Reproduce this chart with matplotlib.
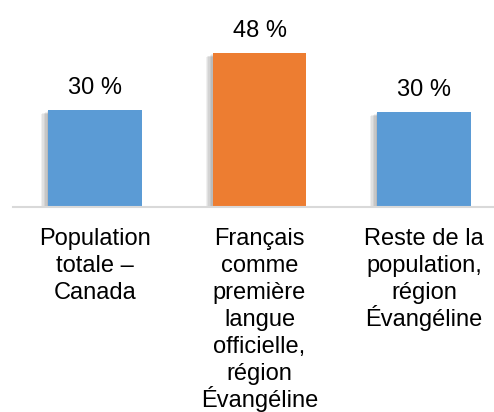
import matplotlib
matplotlib.use('Agg')
import matplotlib.pyplot as plt
import matplotlib.patheffects as pe

categories = ['Population\ntotale –\nCanada',
              'Français\ncomme\npremière\nlangue\nofficielle,\nrégion\nÉvangéline',
              'Reste de la\npopulation,\nrégion\nÉvangéline']
values = [30.2, 48.0, 29.6]
value_labels = ['30 %', '48 %', '30 %']
colors = ['#5B9BD5', '#ED7D31', '#5B9BD5']

plt.rcParams['font.family'] = ['Liberation Sans', 'DejaVu Sans']

fig = plt.figure(figsize=(4.94, 4.12), dpi=100)
ax = fig.add_axes([0.0263, 0.4976, 0.9737, 0.4539])

x = list(range(len(values)))
bars = ax.bar(x, values, width=0.571, color=colors, zorder=2)
# soft shadow to the lower left of each bar
shadow = [pe.SimplePatchShadow(offset=(-d, -d * 0.6), shadow_rgbFace='#000000', alpha=0.06)
          for d in (5, 4, 3, 2, 1)]
for b in bars:
    b.set_path_effects(shadow + [pe.Normal()])

for xi, v, lab in zip(x, values, value_labels):
    ax.annotate(lab, (xi, v), xytext=(0, 11.5), textcoords='offset points',
                ha='center', va='baseline', fontsize=17, color='#000000')

# category labels, one line at a time so the spacing stays even
for xi, cat in zip(x, categories):
    for k, line in enumerate(cat.split('\n')):
        ax.annotate(line, (xi, 0), xycoords=('data', 'axes fraction'),
                    xytext=(0, -38 - 27 * k), textcoords='offset pixels',
                    ha='center', va='baseline', fontsize=17, color='#000000',
                    annotation_clip=False)

ax.set_xlim(-0.4985, 2.4255)
ax.set_ylim(0, 58.3)
ax.set_xticks([])
ax.set_yticks([])

for pos in ['right', 'top', 'left']:
    ax.spines[pos].set_visible(False)
ax.spines['bottom'].set_color('#D9D9D9')
ax.spines['bottom'].set_linewidth(1.5)

fig.savefig('out.png', dpi=100)
